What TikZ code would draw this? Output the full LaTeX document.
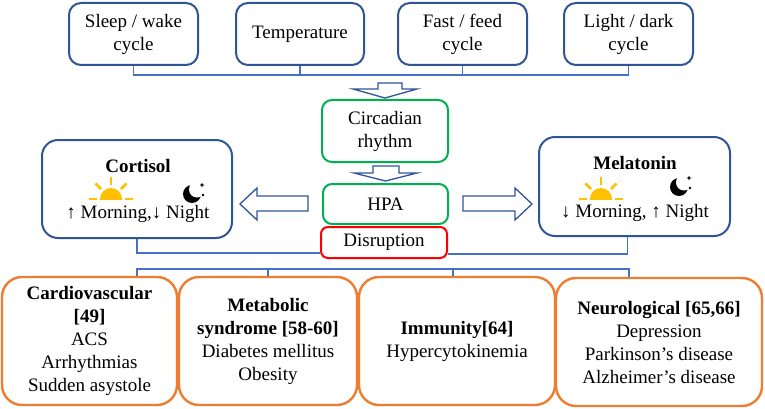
\documentclass[tikz,border=0pt]{standalone}
\usepackage{fontspec}
\setmainfont{Liberation Serif}
\usetikzlibrary{backgrounds}
\definecolor{boxblue}{HTML}{2F5597}
\definecolor{linkblue}{HTML}{4472C4}
\definecolor{rhythmgreen}{HTML}{00B050}
\definecolor{disred}{HTML}{FF0000}
\definecolor{illorange}{HTML}{ED7D31}
\definecolor{sunyellow}{HTML}{FFC000}

\begin{document}
\begin{tikzpicture}[x=1pt,y=-1pt,
	font=\fontsize{19}{23}\selectfont,
	box/.style={draw=#1,line width=2pt,fill=white,align=center,inner sep=0pt},
	link/.style={draw=linkblue,line width=1.3pt},
	fat/.style={draw=boxblue,line width=1.3pt,fill=white,line join=miter}]
	\useasboundingbox (0,0) rectangle (765,409);

	% inputs
	\node[box=boxblue,rounded corners=12pt,minimum width=129,minimum height=62] (sleep) at (133.5,34) {Sleep / wake\\cycle};
	\node[box=boxblue,rounded corners=12pt,minimum width=128,minimum height=62] (temp) at (300,34) {Temperature};
	\node[box=boxblue,rounded corners=12pt,minimum width=129,minimum height=62] (fast) at (462.5,34) {Fast / feed\\cycle};
	\node[box=boxblue,rounded corners=12pt,minimum width=129,minimum height=62] (light) at (628.5,34) {Light / dark\\cycle};

	\node[box=rhythmgreen,rounded corners=10pt,minimum width=126,minimum height=62] (circ) at (385,131) {Circadian\\rhythm};
	\node[box=rhythmgreen,rounded corners=9pt,minimum width=125,minimum height=40] (hpa) at (385.5,204) {HPA};
	\node[box=disred,rounded corners=7pt,minimum width=126,minimum height=31] (disr) at (384,242.5) {Disruption};

	% hormones
	\node[box=boxblue,rounded corners=16pt,minimum width=190,minimum height=98] (cort) at (137,189) {};
	\node[anchor=base,font=\fontsize{19}{23}\selectfont\bfseries] (cortname) at (138,172) {Cortisol};
	\node[anchor=base] (cortday) at (138,218) {↑ Morning,↓ Night};
	\node[box=boxblue,rounded corners=16pt,minimum width=191,minimum height=99] (mel) at (634.5,186.5) {};
	\node[anchor=base,font=\fontsize{19}{23}\selectfont\bfseries] (melname) at (635,169) {Melatonin};
	\node[anchor=base] (melday) at (635,217) {↓ Morning, ↑ Night};

	% outcomes
	\node[box=illorange,line width=2.4pt,rounded corners=20pt,minimum width=175,minimum height=128] (cardio) at (89.5,341) {\textbf{Cardiovascular}\\\textbf{[49]}\\ACS\\Arrhythmias\\Sudden asystole};
	\node[box=illorange,line width=2.4pt,rounded corners=20pt,minimum width=178,minimum height=128] (metab) at (268,341) {\textbf{Metabolic}\\\textbf{syndrome [58-60]}\\Diabetes mellitus\\Obesity};
	\node[box=illorange,line width=2.4pt,rounded corners=20pt,minimum width=196,minimum height=128] (immun) at (457,341) {\textbf{Immunity[64]}\\Hypercytokinemia};
	\node[box=illorange,line width=2.4pt,rounded corners=20pt,minimum width=206,minimum height=128] (neuro) at (659,342) {\textbf{Neurological [65,66]}\\Depression\\Parkinson’s disease\\Alzheimer’s disease};

	\coordinate (topbus) at (0,75);
	\coordinate (leftlow) at (0,253);
	\coordinate (rightlow) at (0,254);
	\coordinate (lowbus) at (0,269);
	\begin{scope}[on background layer]
		\draw[link] (sleep.south) |- (light.south |- topbus) -- (light.south);
		\draw[link] (temp.south) -- (temp.south |- topbus);
		\draw[link] (fast.south) -- (fast.south |- topbus);
		\draw[link] (cort.south) |- (disr.west |- leftlow);
		\draw[link] ([xshift=-7pt]mel.south) |- (disr.east |- rightlow);
		\draw[link] ([xshift=47.5pt]cardio.north) |- ([xshift=-30pt]neuro.north |- lowbus) -- ([xshift=-30pt]neuro.north);
		\draw[link] (metab.north) -- (metab.north |- lowbus);
		\draw[link] ([xshift=-4pt]immun.north) -- ([xshift=-4pt]immun.north |- lowbus);
	\end{scope}

	% block arrows
	\draw[fat] (378,83) -- (402,83) -- (402,89) -- (417,89) -- (385,98) -- (353,89) -- (378,89) -- cycle;
	\draw[fat] (373,166) -- (399,166) -- (399,173) -- (417,173) -- (385.5,181) -- (354,173) -- (373,173) -- cycle;
	\draw[fat] (308,196) -- (257,196) -- (257,188) -- (240,204) -- (257,220) -- (257,211) -- (308,211) -- cycle;
	\draw[fat] (463,196) -- (515,196) -- (515,188) -- (532,204) -- (515,220) -- (515,211) -- (463,211) -- cycle;

	% sun and moon
	\foreach \sx/\sy in {111/199,601/199}{
		\begin{scope}
			\clip (\sx-12,\sy-12) rectangle (\sx+12,\sy);
			\fill[sunyellow] (\sx,\sy) circle[radius=11];
		\end{scope}
		\foreach \a in {0,45,90,135,180}
			\draw[sunyellow,line width=2.6pt] (\sx,\sy) ++(-\a:14) -- ++(-\a:8);
	}
	\foreach \mx/\my in {192/194,679/187}{
		\fill[black] (\mx,\my) circle[radius=9];
		\fill[white] (\mx+5,\my-4.5) circle[radius=8];
		\fill[black] (\mx+10,\my-9) +(0,-2.5) -- +(0.7,-0.7) -- +(2.5,0) -- +(0.7,0.7) -- +(0,2.5) -- +(-0.7,0.7) -- +(-2.5,0) -- +(-0.7,-0.7) -- cycle;
		\fill[black] (\mx+11,\my+1) circle[radius=1.3];
	}
\end{tikzpicture}
\end{document}
